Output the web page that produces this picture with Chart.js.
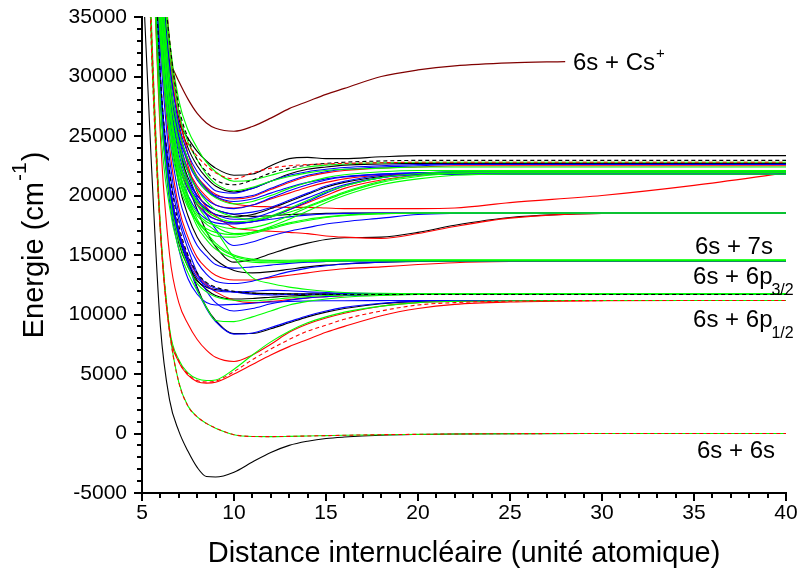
<!DOCTYPE html>
<html>
<head>
<meta charset="utf-8">
<script src="https://cdn.jsdelivr.net/npm/chart.js@4.4.1/dist/chart.umd.min.js"></script>
<style>
  html, body { margin: 0; padding: 0; background: #fff; }
  #wrap { width: 799px; height: 577px; }
</style>
</head>
<body>
<div id="wrap"><canvas id="pec" width="799" height="577"></canvas></div>
<script>
/* ============================================================
   Courbes de potentiel Cs2 — energie vs distance internucleaire
   ============================================================ */

// grille commune (unite atomique)
var R = [5, 5.5, 6, 6.5, 7, 7.5, 8, 8.5, 9, 10, 11, 12, 13, 14, 15, 16, 18, 20, 22, 25, 30, 35, 40];

// 6s + 6s
var ground_X = [40000, 23000, 9000, 2800, 200, -1500, -2850, -3620, -3660, -3250, -2400, -1600, -1000, -650, -420, -300, -150, -80, -40, -15, 0, 0, 0];
var ground_a = [60000, 33000, 17000, 8600, 4300, 2300, 1400, 850, 450, -100, -250, -260, -240, -210, -180, -150, -100, -70, -40, -15, 0, 0, 0];

// 6s + 6p1/2
var b_green1 = [60000, 35000, 17500, 8800, 6200, 5100, 4600, 4450, 4500, 5400, 6600, 7700, 8600, 9300, 9800, 10200, 10700, 11000, 11100, 11160, 11178, 11178, 11178];
var b_red1   = [58000, 34000, 17000, 8500, 6000, 4900, 4350, 4230, 4300, 5000, 5800, 6600, 7300, 7900, 8500, 9000, 9900, 10500, 10850, 11050, 11150, 11178, 11178];
var b_redd   = [59000, 34500, 17200, 8650, 6100, 5000, 4450, 4330, 4400, 5200, 6200, 7100, 7900, 8600, 9100, 9600, 10300, 10800, 11000, 11120, 11170, 11178, 11178];
var b_red2   = [70000, 45000, 25000, 15000, 11000, 9200, 7900, 7000, 6400, 6050, 6600, 7500, 8500, 9200, 9700, 10100, 10700, 11000, 11100, 11160, 11178, 11178, 11178];
var b_black  = [80000, 50000, 30000, 21000, 17000, 14600, 12300, 10600, 9500, 8400, 8400, 8800, 9300, 9800, 10200, 10500, 10900, 11100, 11150, 11178, 11178, 11178, 11178];
var b_blue   = [79000, 49000, 29500, 20500, 16700, 14300, 12100, 10500, 9400, 8350, 8450, 8900, 9400, 9900, 10300, 10600, 10950, 11120, 11160, 11178, 11178, 11178, 11178];
var b_blue2  = [75000, 48000, 28000, 19500, 15500, 13000, 11700, 11000, 10800, 10850, 10950, 11050, 11100, 11130, 11150, 11160, 11170, 11178, 11178, 11178, 11178, 11178, 11178];

// 6s + 6p3/2
var c_green1 = [70000, 45000, 26000, 19000, 15500, 13500, 12000, 10600, 9500, 9400, 9800, 10300, 10800, 11100, 11300, 11450, 11600, 11680, 11710, 11732, 11732, 11732, 11732];
var c_green2 = [73000, 47000, 28000, 20000, 16200, 14000, 12600, 11900, 11500, 11200, 11150, 11250, 11400, 11500, 11600, 11650, 11700, 11732, 11732, 11732, 11732, 11732, 11732];
var c_greenD = [70000, 50000, 34000, 26000, 21500, 19500, 18300, 17600, 17000, 14800, 13100, 12600, 12300, 12100, 11950, 11850, 11780, 11750, 11740, 11732, 11732, 11732, 11732];
var c_blue1  = [80000, 50000, 30000, 22000, 18000, 15500, 13500, 12000, 11000, 10300, 10500, 10900, 11200, 11400, 11500, 11600, 11680, 11720, 11732, 11732, 11732, 11732, 11732];
var c_blue3  = [72000, 47000, 29000, 21000, 16800, 14500, 13100, 12400, 12000, 11900, 11950, 12050, 12000, 11900, 11850, 11800, 11760, 11740, 11732, 11732, 11732, 11732, 11732];
var c_blue4  = [74000, 48000, 29000, 21000, 17000, 14800, 13400, 12600, 12200, 11900, 11700, 11650, 11680, 11700, 11720, 11732, 11732, 11732, 11732, 11732, 11732, 11732, 11732];
var c_red1   = [75000, 48000, 29000, 21000, 17000, 14800, 13300, 12500, 11900, 11200, 11000, 11100, 11250, 11400, 11500, 11580, 11650, 11700, 11720, 11732, 11732, 11732, 11732];
var c_black1 = [70000, 45000, 28000, 20000, 16000, 14000, 12800, 12300, 12100, 11900, 11800, 11760, 11740, 11732, 11732, 11732, 11732, 11732, 11732, 11732, 11732, 11732, 11732];
var c_black2 = [72000, 46000, 28500, 20500, 16500, 14300, 12900, 12100, 11600, 11300, 11350, 11450, 11550, 11620, 11680, 11700, 11732, 11732, 11732, 11732, 11732, 11732, 11732];
var c_blackd = [75000, 48000, 30000, 22000, 17500, 15000, 13500, 12700, 12300, 11950, 11800, 11740, 11720, 11700, 11690, 11680, 11680, 11680, 11680, 11680, 11680, 11680, 11680];

// 6s + 5d
var d_green1 = [70000, 48000, 36000, 27000, 22000, 19300, 17400, 16300, 15500, 14700, 14400, 14350, 14400, 14450, 14480, 14500, 14500, 14500, 14500, 14500, 14500, 14500, 14500];
var d_green2 = [72000, 50000, 37000, 28000, 23000, 20000, 18000, 16900, 16000, 15000, 14650, 14550, 14560, 14580, 14590, 14597, 14597, 14597, 14597, 14597, 14597, 14597, 14597];
var d_green3 = [71000, 49000, 36500, 27500, 22500, 19600, 17700, 16600, 15800, 14900, 14550, 14470, 14480, 14520, 14540, 14550, 14550, 14550, 14550, 14550, 14550, 14550, 14550];
var d_blue1  = [70000, 47000, 34000, 25000, 20000, 17500, 15800, 14900, 14200, 13900, 14000, 14150, 14300, 14400, 14450, 14480, 14500, 14500, 14500, 14500, 14500, 14500, 14500];
var d_blue2  = [66000, 44000, 32000, 23000, 18500, 16000, 14400, 13400, 12800, 12600, 12800, 13200, 13600, 13900, 14100, 14250, 14400, 14470, 14500, 14500, 14500, 14500, 14500];
var d_black1 = [68000, 46000, 35000, 26000, 21000, 18300, 16500, 15400, 14600, 13700, 13500, 13600, 13800, 14000, 14150, 14250, 14400, 14450, 14500, 14500, 14500, 14500, 14500];
var d_red1   = [66000, 44000, 33000, 24000, 19000, 16500, 14800, 13900, 13300, 12900, 12900, 13100, 13300, 13500, 13700, 13850, 14000, 14200, 14350, 14450, 14500, 14500, 14500];

// 6s + 7s
var e_black  = [80000, 55000, 40000, 30000, 24500, 21000, 18800, 17000, 15700, 14400, 14600, 15100, 15600, 16000, 16300, 16450, 16500, 16900, 17500, 18150, 18500, 18535, 18535];
var e_red    = [82000, 57000, 42000, 32000, 26000, 22500, 20300, 19000, 18300, 17300, 17100, 17000, 16900, 16800, 16600, 16500, 16400, 16800, 17400, 18100, 18500, 18535, 18535];
var e_blue   = [80000, 55000, 40000, 30000, 25000, 22000, 19800, 18400, 17200, 15800, 16100, 16600, 17000, 17300, 17600, 17800, 18100, 18400, 18500, 18535, 18535, 18535, 18535];
var e_green  = [78000, 53000, 39000, 29000, 24000, 21000, 19200, 18100, 17400, 16800, 16900, 17300, 17700, 18000, 18200, 18350, 18480, 18535, 18535, 18535, 18535, 18535, 18535];
var e_black2 = [77000, 53000, 38000, 28500, 24000, 21500, 20000, 19200, 18800, 18400, 18250, 18300, 18400, 18450, 18500, 18520, 18535, 18535, 18535, 18535, 18535, 18535, 18535];
var e_redL   = [85000, 60000, 44000, 33000, 27000, 23500, 21500, 20500, 19900, 19300, 19100, 19050, 19000, 19000, 18950, 18900, 18900, 18900, 18950, 19400, 20000, 20850, 21900];

// etats superieurs (6s + 7p, 6s + 6d ...)
var f_black  = [null, null, null, null, 26000, 24800, 23700, 22900, 22300, 21700, 21800, 22500, 23100, 23200, 23100, 23100, 23250, 23350, 23350, 23350, 23350, 23350, 23350];
var f_redd   = [null, null, null, null, 25500, 24300, 23300, 22500, 21900, 21400, 21900, 22300, 22500, 22600, 22650, 22700, 22750, 22800, 22800, 22800, 22800, 22800, 22800];
var f_blackd = [90000, 60000, 42000, 33000, 27500, 24800, 23000, 22000, 21300, 20900, 21300, 21900, 22300, 22550, 22700, 22800, 22900, 22950, 22950, 22950, 22950, 22950, 22950];

var fb1 = [80000, 55000, 38000, 29000, 25000, 22800, 21300, 20400, 19900, 19500, 19700, 20200, 20700, 21100, 21400, 21600, 21800, 21900, 21950, 21950, 21950, 21950, 21950];
var fb2 = [78000, 53000, 36000, 28000, 24000, 22000, 20600, 19700, 19200, 18900, 19200, 19800, 20400, 20900, 21300, 21550, 21800, 21900, 21950, 21950, 21950, 21950, 21950];
var fb3 = [76000, 52000, 35000, 27000, 23000, 21000, 19700, 18900, 18400, 18000, 18100, 18600, 19200, 19800, 20400, 20900, 21500, 21750, 21800, 21800, 21800, 21800, 21800];
var fb4 = [75000, 51000, 34500, 26500, 22500, 20500, 19200, 18400, 18000, 17700, 17800, 18200, 18800, 19500, 20200, 20800, 21500, 21800, 21800, 21800, 21800, 21800, 21800];
var fb5 = [84000, 58000, 40000, 31000, 26000, 23500, 22000, 21100, 20400, 20200, 20600, 21200, 21700, 22000, 22200, 22350, 22500, 22600, 22630, 22630, 22630, 22630, 22630];
var fb6 = [77000, 52000, 37000, 28000, 23500, 21200, 20000, 19200, 18800, 18450, 18600, 19000, 19600, 20200, 20800, 21200, 21700, 21900, 22000, 22000, 22000, 22000, 22000];
var fb7 = [82000, 56000, 39000, 30000, 25500, 23000, 21500, 20600, 20000, 19800, 20000, 20600, 21200, 21700, 22000, 22200, 22400, 22500, 22600, 22600, 22600, 22600, 22600];
var fb8 = [74000, 50000, 34000, 26000, 22000, 20000, 18700, 18000, 17700, 17600, 17800, 18000, 18200, 18350, 18450, 18500, 18535, 18535, 18535, 18535, 18535, 18535, 18535];

var fg1 = [70000, 48000, 33000, 25000, 21000, 19000, 17800, 17200, 16900, 16700, 16900, 17400, 18000, 18700, 19400, 20000, 20900, 21400, 21700, 21800, 21800, 21800, 21800];
var fg2 = [72000, 49000, 34000, 26000, 22000, 19800, 18500, 17800, 17500, 17200, 17300, 17700, 18300, 19000, 19600, 20200, 21100, 21600, 21850, 21950, 21950, 21950, 21950];
var fg3 = [85000, 60000, 42000, 32000, 27000, 24500, 23000, 21800, 21000, 20400, 20700, 21200, 21600, 21900, 22100, 22200, 22300, 22400, 22400, 22400, 22400, 22400, 22400];
var fg4 = [82000, 57000, 40000, 30000, 25500, 23000, 21500, 20400, 19800, 19300, 19500, 20000, 20600, 21100, 21500, 21750, 22000, 22100, 22100, 22100, 22100, 22100, 22100];
var fg5 = [80000, 55000, 38000, 29000, 24500, 22000, 20500, 19500, 18800, 18200, 18000, 18300, 18900, 19600, 20300, 20800, 21500, 21850, 22000, 22000, 22000, 22000, 22000];
var fg6 = [86000, 61000, 43000, 33000, 28000, 25500, 24000, 22800, 22000, 21200, 21300, 21700, 22100, 22400, 22550, 22650, 22750, 22800, 22800, 22800, 22800, 22800, 22800];
var fg7 = [76000, 52000, 36000, 27500, 23000, 20800, 19500, 18700, 18200, 17800, 17900, 18200, 18600, 19100, 19700, 20300, 21200, 21700, 21900, 21950, 21950, 21950, 21950];
var fg8 = [73000, 50000, 35000, 26000, 21500, 19200, 17800, 17000, 16600, 16500, 16800, 17200, 17600, 17900, 18150, 18300, 18450, 18535, 18535, 18535, 18535, 18535, 18535];

var fr1 = [78000, 53000, 38000, 29000, 24500, 22200, 20800, 19900, 19200, 18950, 19200, 19700, 20200, 20700, 21100, 21400, 21700, 21800, 21800, 21800, 21800, 21800, 21800];
var fr2 = [74000, 51000, 35000, 27000, 22800, 20500, 19300, 18500, 18000, 17700, 17800, 18200, 18800, 19400, 20000, 20600, 21300, 21700, 21900, 21950, 21950, 21950, 21950];
var fr3 = [80000, 55000, 39000, 30000, 25500, 23000, 21600, 20700, 20100, 19700, 19900, 20500, 21100, 21600, 21900, 22100, 22300, 22400, 22500, 22500, 22500, 22500, 22500];

var fk1 = [76000, 52000, 36000, 27000, 23000, 20800, 19500, 18800, 18400, 18200, 18400, 18900, 19500, 20100, 20700, 21100, 21600, 21850, 21950, 21950, 21950, 21950, 21950];
var fk2 = [84000, 58000, 41000, 31000, 26500, 24000, 22500, 21500, 20800, 20300, 20600, 21200, 21800, 22200, 22400, 22550, 22650, 22700, 22700, 22700, 22700, 22700, 22700];

// 6s + Cs+ (grille propre)
var ionR = [6.25, 6.5, 7, 7.5, 8, 8.5, 9, 10, 11, 12, 13, 14, 15, 16, 18, 20, 22, 25, 28];
var ionE = [32400, 31300, 29600, 28100, 26900, 26100, 25650, 25400, 25800, 26500, 27300, 27900, 28500, 29000, 30000, 30550, 30900, 31150, 31250];

// etiquettes des asymptotes
var levelText = ['6s + Cs', '6s + 7s', '6s + 6p', '6s + 6p', '6s + 6s'];
var levelSub  = ['', '', '3/2', '1/2', ''];
var levelSup  = ['+', '', '', '', ''];
var levelR    = [28.42, 35.05, 34.95, 34.95, 35.16];
var levelE    = [30540, 15100, 12580, 8980, -2100];

var GREEN = '#00ff00', BLUE = '#0000ff', RED = '#ff0000', BLACK = '#000000', MAROON = '#800000';
var FONT = "'Liberation Sans', Arial, sans-serif";

// [energies, couleur, pointille] — le premier est dessine au-dessus
var curveList = [
  [ground_a, RED, true], [b_redd, RED, true], [f_redd, RED, true], [f_blackd, BLACK, true], [c_blackd, BLACK, true],
  [ground_a, GREEN], [b_green1, GREEN], [c_green1, GREEN], [c_green2, GREEN], [c_greenD, GREEN], [d_green1, GREEN], [d_green2, GREEN], [d_green3, GREEN],
  [e_green, GREEN], [fg1, GREEN], [fg2, GREEN], [fg3, GREEN], [fg4, GREEN], [fg5, GREEN], [fg6, GREEN], [fg7, GREEN], [fg8, GREEN],
  [b_blue, BLUE], [b_blue2, BLUE], [c_blue1, BLUE], [c_blue3, BLUE], [c_blue4, BLUE], [d_blue1, BLUE], [d_blue2, BLUE], [e_blue, BLUE],
  [fb1, BLUE], [fb2, BLUE], [fb3, BLUE], [fb4, BLUE], [fb5, BLUE], [fb6, BLUE], [fb7, BLUE], [fb8, BLUE],
  [b_red1, RED], [b_red2, RED], [c_red1, RED], [d_red1, RED], [e_red, RED], [e_redL, RED], [fr1, RED], [fr2, RED], [fr3, RED],
  [ground_X, BLACK], [b_black, BLACK], [c_black1, BLACK], [c_black2, BLACK], [d_black1, BLACK], [e_black, BLACK], [e_black2, BLACK],
  [f_black, BLACK], [fk1, BLACK], [fk2, BLACK]
];

function toPoints(xs, ys) {
  return xs.map(function(r, i) { return { x: r, y: ys[i] }; });
}

var datasets = curveList.map(function(c) {
  return {
    data: toPoints(R, c[0]),
    borderColor: c[1],
    borderWidth: 1.1,
    borderDash: c[2] ? [4, 3] : [],
    pointRadius: 0,
    fill: false,
    cubicInterpolationMode: 'monotone'
  };
});
datasets.push({ data: toPoints(ionR, ionE), borderColor: MAROON, borderWidth: 1.2, pointRadius: 0, fill: false, cubicInterpolationMode: 'monotone' });

var decorPlugin = {
  id: 'decor',
  afterDraw: function(chart) {
    var ctx = chart.ctx, sx = chart.scales.x, sy = chart.scales.y, area = chart.chartArea;
    ctx.save();

    // ticks (majeurs + mineurs, vers l'exterieur)
    ctx.strokeStyle = '#000';
    ctx.lineWidth = 2;
    ctx.beginPath();
    for (var r = 5; r <= 40; r++) {
      var px = Math.round(sx.getPixelForValue(r));
      var lx = r % 5 === 0 ? 8 : 5;
      ctx.moveTo(px, area.bottom);
      ctx.lineTo(px, area.bottom + lx);
    }
    for (var e = -5000; e <= 35000; e += 1000) {
      var py = Math.round(sy.getPixelForValue(e));
      var ly = e % 5000 === 0 ? 8 : 5;
      ctx.moveTo(area.left, py);
      ctx.lineTo(area.left - ly, py);
    }
    ctx.stroke();

    ctx.fillStyle = '#000';
    ctx.textBaseline = 'alphabetic';

    // titre x
    ctx.font = '29px ' + FONT;
    ctx.textAlign = 'center';
    ctx.fillText('Distance internucléaire (unité atomique)', (area.left + area.right) / 2, 562);

    // titre y (tourne)
    ctx.save();
    ctx.translate(43, 245);
    ctx.rotate(-Math.PI / 2);
    ctx.textAlign = 'left';
    ctx.font = '29px ' + FONT;
    var t1 = 'Energie (cm', t3 = ')';
    var w1 = ctx.measureText(t1).width, w3 = ctx.measureText(t3).width;
    ctx.font = '21px ' + FONT;
    var w2 = ctx.measureText('-1').width;
    var gap = 1;
    var x0 = -(w1 + w2 + w3 + 2 * gap) / 2;
    ctx.font = '29px ' + FONT;
    ctx.fillText(t1, x0, 0);
    ctx.font = '21px ' + FONT;
    ctx.fillText('-1', x0 + w1 + gap, -17);
    ctx.font = '29px ' + FONT;
    ctx.fillText(t3, x0 + w1 + w2 + 2 * gap, 0);
    ctx.restore();

    // etiquettes des niveaux
    ctx.textAlign = 'left';
    for (var i = 0; i < levelText.length; i++) {
      var lx0 = sx.getPixelForValue(levelR[i]);
      var ly0 = sy.getPixelForValue(levelE[i]);
      ctx.font = '24px ' + FONT;
      ctx.fillText(levelText[i], lx0, ly0);
      var w = ctx.measureText(levelText[i]).width;
      if (levelSub[i]) {
        ctx.font = '16px ' + FONT;
        ctx.fillText(levelSub[i], lx0 + w - 1, ly0 + 11);
      }
      if (levelSup[i]) {
        ctx.font = '15px ' + FONT;
        ctx.fillText(levelSup[i], lx0 + w + 1, ly0 - 12);
      }
    }
    ctx.restore();
  }
};

new Chart(document.getElementById('pec').getContext('2d'), {
  type: 'line',
  data: { datasets: datasets },
  options: {
    responsive: false,
    animation: false,
    devicePixelRatio: 1,
    layout: { padding: { top: 17, right: 13, left: 0, bottom: 0 } },
    plugins: { legend: { display: false }, tooltip: { enabled: false } },
    scales: {
      x: {
        type: 'linear', min: 5, max: 40,
        grid: { display: false, drawTicks: false },
        border: { display: true, color: '#000', width: 2 },
        ticks: { stepSize: 5, color: '#000', font: { family: FONT, size: 21 }, padding: 8, maxRotation: 0 },
        afterFit: function(s) { s.height = 84; s.paddingLeft = 0; s.paddingRight = 0; }
      },
      y: {
        type: 'linear', min: -5000, max: 35000,
        grid: { display: false, drawTicks: false },
        border: { display: true, color: '#000', width: 2 },
        ticks: { stepSize: 5000, color: '#000', font: { family: FONT, size: 21 }, padding: 15,
                 callback: function(v) { return String(v); } },
        afterFit: function(s) { s.width = 142; s.paddingTop = 0; s.paddingBottom = 0; }
      }
    }
  },
  plugins: [decorPlugin]
});
</script>
</body>
</html>
